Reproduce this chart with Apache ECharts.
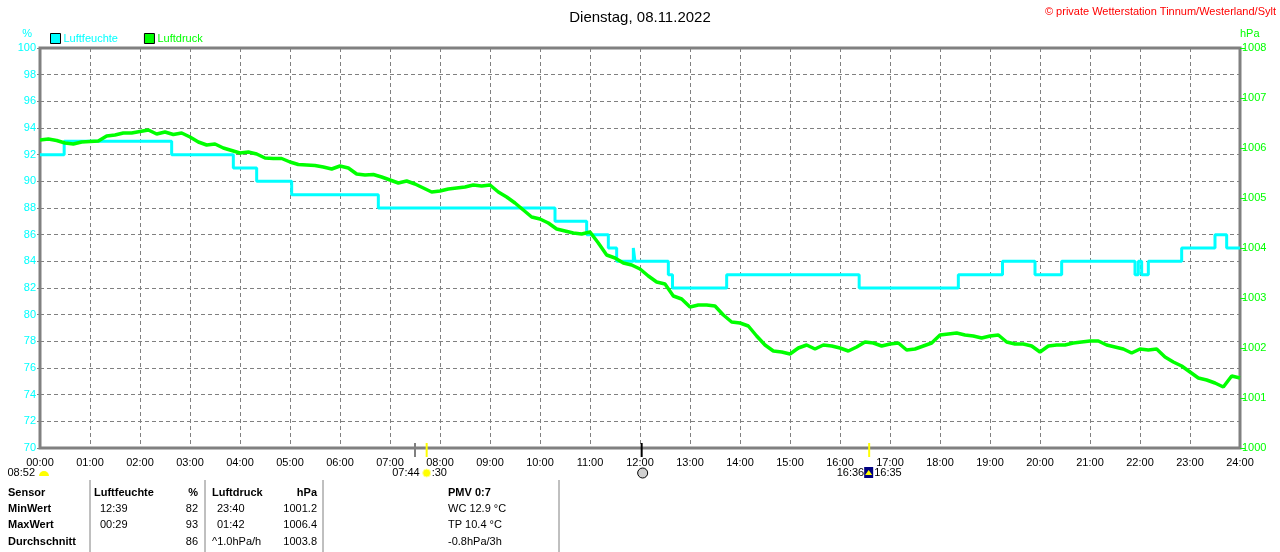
<!DOCTYPE html>
<html lang="de">
<head>
<meta charset="utf-8">
<title>Dienstag, 08.11.2022</title>
<script src="https://cdn.jsdelivr.net/npm/echarts@6/dist/echarts.min.js"></script>
<style>
    html, body { height: 100%; margin: 0; background: #fff; }
    #main { width: 1280px; height: 552px; }
</style>
</head>
<body>
<div id="main"></div>
<script>
// Luftfeuchte: Wechselpunkte (Minute, %), Wert gilt bis zum naechsten Punkt
var humTimes = [0, 29, 158, 232, 260, 302, 406, 618, 656, 682, 692, 712, 714, 754, 759, 824, 983, 1102, 1155, 1194, 1226, 1314, 1318, 1322, 1330, 1370, 1410, 1424, 1440];
var humValues = [92, 93, 92, 91, 90, 89, 88, 87, 86, 85, 84, 85, 84, 83, 82, 83, 82, 83, 84, 83, 84, 83, 84, 83, 84, 85, 86, 85, 85];

// Luftdruck alle 10 Minuten ab 00:00 (hPa)
var pressStep = 10;
var pressValues = [
    1006.16, 1006.18, 1006.15, 1006.10, 1006.08, 1006.12, 1006.13, 1006.14, 1006.24, 1006.26, 1006.30, 1006.30,
    1006.33, 1006.36, 1006.28, 1006.32, 1006.27, 1006.30, 1006.22, 1006.12, 1006.06, 1006.08, 1006.00, 1005.95,
    1005.90, 1005.92, 1005.88, 1005.80, 1005.79, 1005.79, 1005.72, 1005.67, 1005.66, 1005.65, 1005.62, 1005.58,
    1005.64, 1005.60, 1005.48, 1005.46, 1005.47, 1005.42, 1005.36, 1005.30, 1005.34, 1005.28, 1005.20, 1005.12,
    1005.14, 1005.18, 1005.20, 1005.22, 1005.26, 1005.24, 1005.26, 1005.12, 1005.02, 1004.90, 1004.76, 1004.62,
    1004.58, 1004.50, 1004.38, 1004.34, 1004.30, 1004.28, 1004.32, 1004.10, 1003.86, 1003.80, 1003.70, 1003.66,
    1003.58, 1003.44, 1003.32, 1003.28, 1003.04, 1002.98, 1002.82, 1002.86, 1002.86, 1002.84, 1002.66, 1002.52,
    1002.50, 1002.44, 1002.24, 1002.06, 1001.94, 1001.92, 1001.88, 1002.00, 1002.06, 1001.98, 1002.06, 1002.04,
    1002.00, 1001.94, 1002.02, 1002.12, 1002.10, 1002.04, 1002.08, 1002.10, 1001.96, 1001.98, 1002.04, 1002.10,
    1002.26, 1002.28, 1002.30, 1002.26, 1002.24, 1002.20, 1002.24, 1002.26, 1002.12, 1002.08, 1002.08, 1002.04,
    1001.92, 1002.04, 1002.06, 1002.06, 1002.10, 1002.12, 1002.14, 1002.14, 1002.06, 1002.02, 1001.98, 1001.90,
    1001.98, 1001.96, 1001.98, 1001.82, 1001.72, 1001.64, 1001.52, 1001.40, 1001.36, 1001.30, 1001.22, 1001.44,
    1001.40
];

// Markierungen unter der Zeitachse (Minute, Farbe)
var markTimes = [450, 464, 722, 995];
var markColors = ['#808080', '#ffff00', '#000000', '#ffff00'];

// Tabelle unten
var tableRows = ['Sensor', 'MinWert', 'MaxWert', 'Durchschnitt'];
var humTable = [['Luftfeuchte', '%'], ['12:39', '82'], ['00:29', '93'], ['', '86']];
var pressTable = [['Luftdruck', 'hPa'], ['23:40', '1001.2'], ['01:42', '1006.4'], ['^1.0hPa/h', '1003.8']];
var pmvLines = ['PMV 0:7', 'WC 12.9 °C', 'TP 10.4 °C', '-0.8hPa/3h'];

var FONT = 'Liberation Sans, Arial, sans-serif';
var CYAN = '#00ffff';
var GREEN = '#00ff00';
var GRAY = '#808080';

function pad(n) { return (n < 10 ? '0' : '') + n; }
function hhmm(min) { return pad(Math.floor(min / 60)) + ':' + pad(min % 60); }

var humData = humTimes.map(function (t, i) { return [t, humValues[i]]; });
var pressData = pressValues.map(function (v, i) { return [i * pressStep, v]; });

var chart = echarts.init(document.getElementById('main'));

var option = {
    animation: false,
    backgroundColor: '#fff',
    textStyle: { fontFamily: FONT },
    title: {
        text: 'Dienstag, 08.11.2022',
        left: 'center',
        top: 5,
        textStyle: { fontSize: 15, fontWeight: 'normal', color: '#000', fontFamily: FONT }
    },
    legend: {
        left: 50,
        top: 33,
        padding: 0,
        itemWidth: 10,
        itemHeight: 10,
        itemGap: 26,
        icon: 'rect',
        data: [
            { name: 'Luftfeuchte', textStyle: { color: CYAN } },
            { name: 'Luftdruck', textStyle: { color: GREEN } }
        ],
        textStyle: { fontSize: 11, fontFamily: FONT, padding: [0, 0, 0, -2] },
        itemStyle: { borderColor: '#000', borderWidth: 1 }
    },
    grid: {
        left: 40, right: 40, top: 48, bottom: 104,
        show: true, borderColor: GRAY, borderWidth: 3
    },
    xAxis: {
        type: 'value',
        min: 0, max: 1440, interval: 60,
        axisLine: { show: false },
        axisTick: { show: false },
        axisLabel: {
            color: '#000', fontSize: 11, margin: 9, fontFamily: FONT,
            formatter: function (v) { return hhmm(v); }
        },
        splitLine: { show: true, lineStyle: { color: GRAY, width: 1, type: [4, 3] } }
    },
    yAxis: [
        {
            type: 'value',
            min: 70, max: 100, interval: 2,
            name: '%',
            nameGap: 9,
            nameTextStyle: { color: CYAN, fontSize: 11, align: 'right', padding: [0, 8, 0, 0] },
            axisLine: { show: false },
            axisTick: { show: true, length: 3, lineStyle: { color: GRAY } },
            axisLabel: { color: CYAN, fontSize: 11, margin: 4, fontFamily: FONT },
            splitLine: { show: true, lineStyle: { color: GRAY, width: 1, type: [4, 3] } }
        },
        {
            type: 'value',
            min: 1000, max: 1008, interval: 1,
            name: 'hPa',
            nameGap: 9,
            nameTextStyle: { color: GREEN, fontSize: 11, align: 'left', padding: [0, 0, 0, 0] },
            axisLine: { show: false },
            axisTick: { show: true, length: 5, lineStyle: { color: GREEN } },
            axisLabel: {
                color: GREEN, fontSize: 11, margin: 2, fontFamily: FONT,
                formatter: function (v) { return String(v); }
            },
            splitLine: { show: false }
        }
    ],
    series: [
        {
            name: 'Luftfeuchte',
            type: 'line',
            step: 'end',
            yAxisIndex: 0,
            data: humData,
            symbol: 'none',
            color: CYAN,
            lineStyle: { color: CYAN, width: 3 },
            z: 3
        },
        {
            name: 'Luftdruck',
            type: 'line',
            yAxisIndex: 1,
            data: pressData,
            symbol: 'none',
            color: GREEN,
            lineStyle: { color: GREEN, width: 3.5 },
            z: 4
        }
    ]
};

chart.setOption(option);

// Markierungen und Tabelle als Grafik
var g = [];
markTimes.forEach(function (t, i) {
    var x = chart.convertToPixel({ xAxisIndex: 0 }, t);
    g.push({
        type: 'line', silent: true,
        shape: { x1: x, y1: 443, x2: x, y2: 457 },
        style: { stroke: markColors[i], lineWidth: 2 }
    });
});

function txt(x, y, s, opts) {
    opts = opts || {};
    return {
        type: 'text', silent: true, x: x, y: y,
        style: {
            text: s, fill: opts.color || '#000',
            font: (opts.bold ? 'bold ' : '') + (opts.size || 11) + 'px ' + FONT,
            align: opts.align || 'left', verticalAlign: 'middle'
        }
    };
}

// Sonnen- und Mondzeiten
var xRise = chart.convertToPixel({ xAxisIndex: 0 }, markTimes[1]);
var xMoon = chart.convertToPixel({ xAxisIndex: 0 }, markTimes[2]);
var xSet = chart.convertToPixel({ xAxisIndex: 0 }, markTimes[3]);
g.push(txt(35, 473, '08:52', { align: 'right' }));
g.push({ type: 'sector', silent: true, shape: { cx: 44, cy: 476, r: 5, startAngle: Math.PI, endAngle: 2 * Math.PI }, style: { fill: '#ffff00' } });
g.push(txt(xRise - 7, 473, '07:44', { align: 'right' }));
g.push({ type: 'circle', silent: true, shape: { cx: xRise, cy: 473, r: 4 }, style: { fill: '#ffff00', stroke: '#ffff99', lineWidth: 1 } });
g.push(txt(xRise + 5, 473, ':30'));
g.push({ type: 'circle', silent: true, shape: { cx: xMoon + 1, cy: 473, r: 5 }, style: { fill: '#d0d0d0', stroke: '#000', lineWidth: 1 } });
g.push(txt(xSet - 5, 473, '16:36', { align: 'right' }));
g.push({ type: 'rect', silent: true, shape: { x: xSet - 5, y: 467, width: 9, height: 11 }, style: { fill: '#000080' } });
g.push({ type: 'polygon', silent: true, shape: { points: [[xSet - 0.5, 470], [xSet + 3, 475], [xSet - 4, 475]] }, style: { fill: '#ffff00' } });
g.push(txt(xSet + 5, 473, '16:35'));

// Tabelle
[90, 205, 323, 559].forEach(function (x) {
    g.push({ type: 'line', silent: true, shape: { x1: x, y1: 480, x2: x, y2: 552 }, style: { stroke: GRAY, lineWidth: 1 } });
});
var rowY = [493, 509, 525, 542];
tableRows.forEach(function (s, i) { g.push(txt(8, rowY[i], s, { bold: true })); });
humTable.forEach(function (r, i) {
    g.push(txt(i === 0 ? 94 : 100, rowY[i], r[0], { bold: i === 0 }));
    g.push(txt(198, rowY[i], r[1], { bold: i === 0, align: 'right' }));
});
pressTable.forEach(function (r, i) {
    g.push(txt(i === 0 || i === 3 ? 212 : 217, rowY[i], r[0], { bold: i === 0 }));
    g.push(txt(317, rowY[i], r[1], { bold: i === 0, align: 'right' }));
});
pmvLines.forEach(function (s, i) {
    g.push(txt(448, rowY[i], s, { bold: i === 0 }));
});

// Copyright
g.push(txt(1276, 12, '© private Wetterstation Tinnum/Westerland/Sylt', { color: '#ff0000', align: 'right' }));

chart.setOption({ graphic: g });
</script>
</body>
</html>
